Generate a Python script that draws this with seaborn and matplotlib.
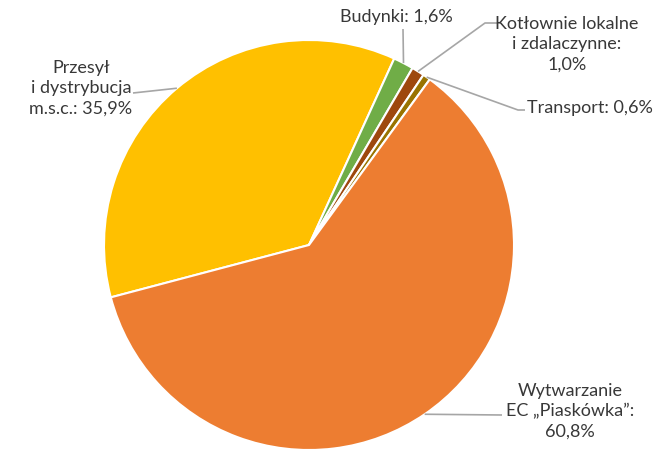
import numpy as np
import matplotlib
matplotlib.use("Agg")
import matplotlib.pyplot as plt
import seaborn as sns

# dane
categories = ["Przesył\ni dystrybucja\nm.s.c.: 35,9%", "Budynki: 1,6%",
              "Kotłownie lokalne\ni zdalaczynne:\n1,0%", "Transport: 0,6%",
              "Wytwarzanie\nEC „Piaskówka”:\n60,8%"]
values = [35.9, 1.6, 1.0, 0.6, 60.8]
colors = ["#FFC000", "#70AD47", "#9E480E", "#997300", "#ED7D31"]

sns.set_style("white")
plt.rcParams["font.family"] = ["Lato", "DejaVu Sans"]

W, H = 668, 449
cx, cy, R = 309, 245, 205  # środek i promień w pikselach


def px(x, y):
    # piksele -> współrzędne danych
    return (x - cx) / R, (cy - y) / R


fig = plt.figure(figsize=(W / 100, H / 100), dpi=100)
ax = fig.add_axes([0, 0, 1, 1])
wedges, _ = ax.pie(values, colors=colors, startangle=194.8, counterclock=False,
                   wedgeprops=dict(edgecolor="white", linewidth=1.5))
ax.set_xlim(-cx / R, (W - cx) / R)
ax.set_ylim(-(H - cy) / R, cy / R)
ax.set_aspect("equal")
ax.axis("off")


def edge(w):
    a = np.deg2rad((w.theta1 + w.theta2) / 2)
    return np.cos(a), np.sin(a)


# (pozycja tekstu, wyrównanie, punkty linii od klina)
layout = [
    ((81, 88), "center", [(133, 93)]),
    ((396, 17), "center", [(403, 29)]),
    ((567, 44), "center", [(485, 23), (500, 23)]),
    ((527, 108), "left", [(518, 110), (525, 110)]),
    ((570, 411), "center", [(502, 415)]),
]

lc = "#A6A6A6"
for w, lab, (tp, ha, pts) in zip(wedges, categories, layout):
    ex, ey = edge(w)
    xs = [ex] + [px(*p)[0] for p in pts]
    ys = [ey] + [px(*p)[1] for p in pts]
    ax.plot(xs, ys, color=lc, lw=1.2, solid_capstyle="butt")
    tx, ty = px(*tp)
    ax.text(tx, ty, lab, ha=ha, va="center", fontsize=13, color="#383838",
            linespacing=1.32)

plt.savefig("out.png", dpi=100)
